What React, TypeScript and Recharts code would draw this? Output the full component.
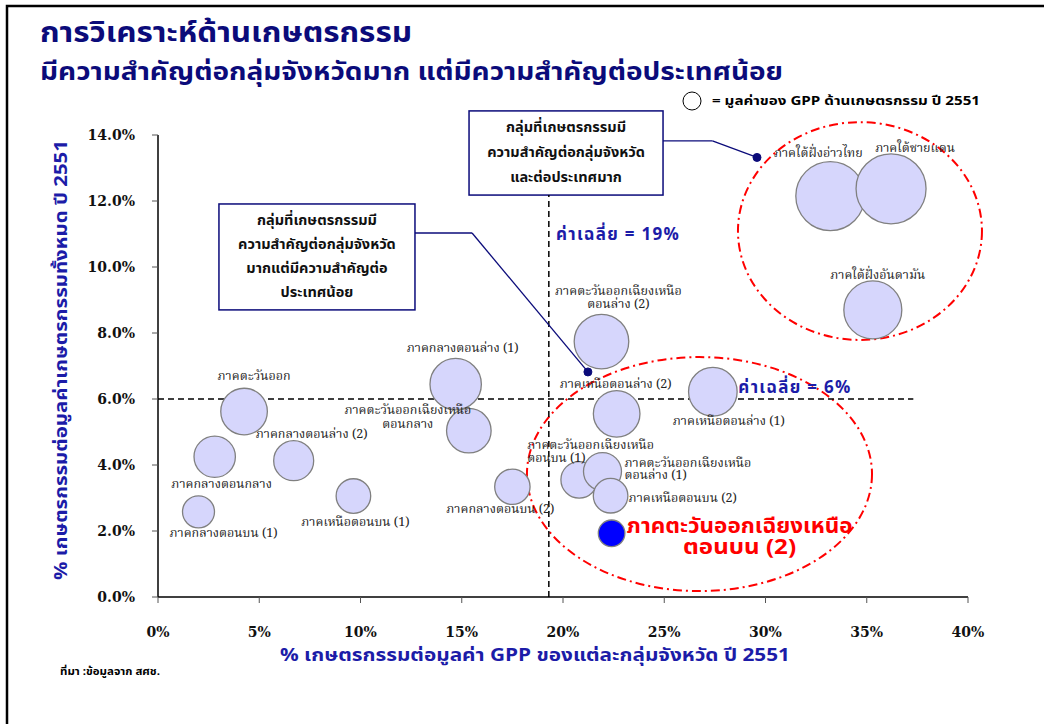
import React from 'react';
import {
  ScatterChart,
  Scatter,
  XAxis,
  YAxis,
  ZAxis,
  ReferenceLine,
  ReferenceArea,
  ReferenceDot,
} from 'recharts';

// ---------------- data ----------------
const regionNames = [
  'ภาคกลางตอนบน (1)',
  'ภาคกลางตอนกลาง',
  'ภาคตะวันออก',
  'ภาคกลางตอนล่าง (2)',
  'ภาคเหนือตอนบน (1)',
  'ภาคกลางตอนล่าง (1)',
  'ภาคตะวันออกเฉียงเหนือตอนกลาง',
  'ภาคกลางตอนบน (2)',
  'ภาคตะวันออกเฉียงเหนือตอนล่าง (2)',
  'ภาคเหนือตอนล่าง (2)',
  'ภาคเหนือตอนล่าง (1)',
  'ภาคตะวันออกเฉียงเหนือตอนบน (1)',
  'ภาคตะวันออกเฉียงเหนือตอนล่าง (1)',
  'ภาคเหนือตอนบน (2)',
  'ภาคตะวันออกเฉียงเหนือตอนบน (2)',
  'ภาคใต้ฝั่งอ่าวไทย',
  'ภาคใต้ชายแดน',
  'ภาคใต้ฝั่งอันดามัน',
];
// % agriculture in each group's GPP (x)
const agriShareOfGroupGpp = [2.0, 2.8, 4.25, 6.7, 9.65, 14.7, 15.35, 17.5, 21.9, 22.65, 27.4, 20.8, 21.95, 22.35, 22.4, 33.2, 36.2, 35.3];
// % of the nation's total agriculture (y)
const agriShareOfNational = [2.58, 4.25, 5.62, 4.13, 3.06, 6.45, 5.04, 3.34, 7.74, 5.55, 6.22, 3.55, 3.8, 3.07, 1.93, 12.15, 12.37, 8.7];
// relative GPP value of agriculture (bubble size)
const agriGppValue = [256, 428, 543, 400, 299, 660, 497, 313, 745, 543, 590, 335, 361, 299, 177, 1190, 1225, 841];

const xTicks = [0, 5, 10, 15, 20, 25, 30, 35, 40];
const yTicks = [0, 2, 4, 6, 8, 10, 12, 14];
const avgX = 19.3;
const avgY = 6;
const highlightRegion = 'ภาคตะวันออกเฉียงเหนือตอนบน (2)';

const titleLine1 = 'การวิเคราะห์ด้านเกษตรกรรม';
const titleLine2 = 'มีความสำคัญต่อกลุ่มจังหวัดมาก แต่มีความสำคัญต่อประเทศน้อย';
const legendText = '= มูลค่าของ GPP ด้านเกษตรกรรม ปี 2551';
const xTitle = '% เกษตรกรรมต่อมูลค่า GPP ของแต่ละกลุ่มจังหวัด ปี 2551';
const yTitle = '% เกษตรกรรมต่อมูลค่าเกษตรกรรมทั้งหมด ปี 2551';
const sourceText = 'ที่มา :ข้อมูลจาก สศช.';
const avgXLabel = 'ค่าเฉลี่ย = 19%';
const avgYLabel = 'ค่าเฉลี่ย = 6%';
const callout1Lines = ['กลุ่มที่เกษตรกรรมมี', 'ความสำคัญต่อกลุ่มจังหวัด', 'และต่อประเทศมาก'];
const callout2Lines = ['กลุ่มที่เกษตรกรรมมี', 'ความสำคัญต่อกลุ่มจังหวัด', 'มากแต่มีความสำคัญต่อ', 'ประเทศน้อย'];

const data = regionNames.map((name, i) => ({
  name,
  x: agriShareOfGroupGpp[i],
  y: agriShareOfNational[i],
  z: agriGppValue[i],
}));

// ---------------- layout / style ----------------
type LabelCfg = { lines: string[]; dx: number; dy: number; gap?: number; anchor?: 'start' | 'middle' | 'end' };
const labelLayout: Record<string, LabelCfg> = {
  'ภาคกลางตอนบน (1)': { lines: ['ภาคกลางตอนบน (1)'], dx: 25, dy: 22 },
  'ภาคกลางตอนกลาง': { lines: ['ภาคกลางตอนกลาง'], dx: 7, dy: 28 },
  'ภาคตะวันออก': { lines: ['ภาคตะวันออก'], dx: 10, dy: -35 },
  'ภาคกลางตอนล่าง (2)': { lines: ['ภาคกลางตอนล่าง (2)'], dx: 18, dy: -26 },
  'ภาคเหนือตอนบน (1)': { lines: ['ภาคเหนือตอนบน (1)'], dx: 2, dy: 27 },
  'ภาคกลางตอนล่าง (1)': { lines: ['ภาคกลางตอนล่าง (1)'], dx: 7, dy: -35 },
  'ภาคตะวันออกเฉียงเหนือตอนกลาง': { lines: ['ภาคตะวันออกเฉียงเหนือ', 'ตอนกลาง'], dx: -61, dy: -20, gap: 14 },
  'ภาคกลางตอนบน (2)': { lines: ['ภาคกลางตอนบน (2)'], dx: -12, dy: 23 },
  'ภาคตะวันออกเฉียงเหนือตอนล่าง (2)': { lines: ['ภาคตะวันออกเฉียงเหนือ', 'ตอนล่าง (2)'], dx: 17, dy: -50, gap: 13 },
  'ภาคเหนือตอนล่าง (2)': { lines: ['ภาคเหนือตอนล่าง (2)'], dx: -1, dy: -29 },
  'ภาคเหนือตอนล่าง (1)': { lines: ['ภาคเหนือตอนล่าง (1)'], dx: 16, dy: 30 },
  'ภาคตะวันออกเฉียงเหนือตอนบน (1)': { lines: ['ภาคตะวันออกเฉียงเหนือ', 'ตอนบน (1)'], dx: -52, dy: -34, gap: 13, anchor: 'start' },
  'ภาคตะวันออกเฉียงเหนือตอนล่าง (1)': { lines: ['ภาคตะวันออกเฉียงเหนือ', 'ตอนล่าง (1)'], dx: 22, dy: -8, gap: 12, anchor: 'start' },
  'ภาคเหนือตอนบน (2)': { lines: ['ภาคเหนือตอนบน (2)'], dx: 18, dy: 3, anchor: 'start' },
  'ภาคตะวันออกเฉียงเหนือตอนบน (2)': { lines: ['ภาคตะวันออกเฉียงเหนือ', 'ตอนบน (2)'], dx: 128, dy: -7, gap: 21 },
  'ภาคใต้ฝั่งอ่าวไทย': { lines: ['ภาคใต้ฝั่งอ่าวไทย'], dx: -12, dy: -42 },
  'ภาคใต้ชายแดน': { lines: ['ภาคใต้ชายแดน'], dx: 24, dy: -40 },
  'ภาคใต้ฝั่งอันดามัน': { lines: ['ภาคใต้ฝั่งอันดามัน'], dx: 5, dy: -34 },
};
const highlightLineLengths = [226, 113];

const W = 1044;
const H = 724;
const NAVY = '#0b0b7a';
const BLUE = '#1c1ca8';
const THAI_SANS = "'Noto Sans Thai', 'Tahoma', 'DejaVu Sans', sans-serif";
const THAI_SERIF = "'Noto Serif Thai', 'Noto Sans Thai', 'DejaVu Serif', serif";
const NUM_SERIF = "'DejaVu Serif', 'Liberation Serif', serif";
const MAX_R = 35;

const Bubble = (p: any) => {
  const r = p.width ? p.width / 2 : Math.sqrt((p.size || 0) / Math.PI);
  const name = p.payload?.name ?? p.name;
  const hl = name === highlightRegion;
  return (
    <circle cx={p.cx} cy={p.cy} r={r} fill={hl ? '#0000ff' : '#d6d6fc'} stroke="#808080" strokeWidth={1.3} />
  );
};

const BubbleLabel = (p: any) => {
  const name = p.payload?.name ?? p.name;
  const cfg = labelLayout[name];
  if (!cfg) return null;
  const hl = name === highlightRegion;
  const gap = cfg.gap ?? 13;
  return (
    <g>
      {cfg.lines.map((t, i) => (
        <text
          key={i}
          x={p.cx + cfg.dx}
          y={p.cy + cfg.dy + i * gap}
          textAnchor={cfg.anchor ?? 'middle'}
          dominantBaseline="central"
          fontFamily={hl ? THAI_SANS : THAI_SERIF}
          fontSize={hl ? 21 : 12.5}
          fontWeight={hl ? 'bold' : 'normal'}
          fill={hl ? '#ff0000' : '#222222'}
          textLength={hl ? highlightLineLengths[i] : undefined}
          lengthAdjust="spacingAndGlyphs"
        >
          {t}
        </text>
      ))}
    </g>
  );
};

const Ellipse = (p: any) => (
  <ellipse
    cx={p.x + p.width / 2}
    cy={p.y + p.height / 2}
    rx={Math.abs(p.width) / 2}
    ry={Math.abs(p.height) / 2}
    fill="none"
    stroke="#ff0000"
    strokeWidth={2}
    strokeDasharray="9 4 2 4"
  />
);

const makeBox = (lines: string[], lineGap: number) => (p: any) => {
  const cx = p.x + p.width / 2;
  const top = p.y;
  const start = top + p.height / 2 - ((lines.length - 1) * lineGap) / 2;
  return (
    <g>
      <rect x={p.x} y={p.y} width={p.width} height={p.height} fill="#ffffff" stroke={NAVY} strokeWidth={1.5} />
      {lines.map((t, i) => (
        <text
          key={i}
          x={cx}
          y={start + i * lineGap}
          textAnchor="middle"
          dominantBaseline="central"
          fontFamily={THAI_SANS}
          fontSize={14.5}
          fontWeight="bold"
          fill="#111111"
        >
          {t}
        </text>
      ))}
    </g>
  );
};

const makeText = (text: string, len: number) => (p: any) => (
  <text
    x={p.cx}
    y={p.cy}
    dominantBaseline="central"
    fontFamily={THAI_SANS}
    fontSize={17}
    fontWeight="bold"
    fill={BLUE}
    textLength={len}
    lengthAdjust="spacing"
  >
    {text}
  </text>
);

const tickStyle = {
  fontFamily: NUM_SERIF,
  fontSize: 14,
  fontWeight: 'bold',
  fill: '#111111',
  style: { fontFamily: NUM_SERIF },
};

export default function App() {
  return (
    <div style={{ position: 'absolute', left: 0, top: 0, width: W, height: H, background: '#ffffff' }}>
      <ScatterChart width={W} height={H} margin={{ top: 135, right: 76, bottom: 87, left: 98 }}>
        <XAxis
          type="number"
          dataKey="x"
          domain={[0, 40]}
          ticks={xTicks}
          tickFormatter={(v: number) => `${v}%`}
          axisLine={{ stroke: '#000000', strokeWidth: 1.5 }}
          tickLine={{ stroke: '#555555' }}
          tickSize={6}
          tickMargin={24}
          height={40}
          tick={tickStyle}
        />
        <YAxis
          type="number"
          dataKey="y"
          domain={[0, 14]}
          ticks={yTicks}
          tickFormatter={(v: number) => `${v.toFixed(1)}%`}
          axisLine={{ stroke: '#000000', strokeWidth: 1.5 }}
          tickLine={{ stroke: '#555555' }}
          tickSize={6}
          tickMargin={17}
          width={60}
          tick={tickStyle}
        />
        <ZAxis type="number" dataKey="z" domain={[0, 1225]} range={[0, Math.PI * MAX_R * MAX_R]} />

        <Scatter data={data} shape={Bubble} isAnimationActive={false} />

        <ReferenceLine
          segment={[{ x: avgX, y: 0 }, { x: avgX, y: 12.18 }]}
          stroke="#000000"
          strokeWidth={1.5}
          strokeDasharray="6 4"
          ifOverflow="visible"
        />
        <ReferenceLine
          segment={[{ x: 0, y: avgY }, { x: 37.3, y: avgY }]}
          stroke="#000000"
          strokeWidth={1.5}
          strokeDasharray="6 4"
          ifOverflow="visible"
        />

        <Scatter data={data} shape={BubbleLabel} isAnimationActive={false} />

        <ReferenceDot x={19.65} y={10.97} r={0} ifOverflow="visible" shape={makeText(avgXLabel, 123)} />
        <ReferenceDot x={28.66} y={6.32} r={0} ifOverflow="visible" shape={makeText(avgYLabel, 112)} />

        <ReferenceArea x1={28.64} x2={40.69} y1={7.79} y2={14.39} ifOverflow="visible" shape={Ellipse} />
        <ReferenceArea x1={18.22} x2={35.26} y1={0.18} y2={7.27} ifOverflow="visible" shape={Ellipse} />

        <ReferenceLine segment={[{ x: 24.94, y: 13.82 }, { x: 27.38, y: 13.82 }]} stroke={NAVY} strokeWidth={1.3} ifOverflow="visible" />
        <ReferenceLine segment={[{ x: 27.38, y: 13.82 }, { x: 29.58, y: 13.32 }]} stroke={NAVY} strokeWidth={1.3} ifOverflow="visible" />
        <ReferenceDot x={29.58} y={13.32} r={4} fill={NAVY} stroke={NAVY} ifOverflow="visible" />
        <ReferenceLine segment={[{ x: 12.69, y: 11.03 }, { x: 15.51, y: 11.03 }]} stroke={NAVY} strokeWidth={1.3} ifOverflow="visible" />
        <ReferenceLine segment={[{ x: 15.51, y: 11.03 }, { x: 21.23, y: 6.82 }]} stroke={NAVY} strokeWidth={1.3} ifOverflow="visible" />
        <ReferenceDot x={21.23} y={6.82} r={4} fill={NAVY} stroke={NAVY} ifOverflow="visible" />

        <ReferenceArea x1={15.36} x2={24.94} y1={12.18} y2={14.73} ifOverflow="visible" shape={makeBox(callout1Lines, 25)} />
        <ReferenceArea x1={3.01} x2={12.69} y1={8.7} y2={11.91} ifOverflow="visible" shape={makeBox(callout2Lines, 24)} />
      </ScatterChart>

      <svg
        width={W}
        height={H}
        style={{ position: 'absolute', left: 0, top: 0, pointerEvents: 'none' }}
      >
        <path d="M 1044 6 L 7 6 L 7 724" fill="none" stroke="#000000" strokeWidth={2.5} />
        <text x={40} y={33} dominantBaseline="central" fontFamily={THAI_SANS} fontSize={28} fontWeight="bold" fill={NAVY} textLength={372} lengthAdjust="spacingAndGlyphs">
          {titleLine1}
        </text>
        <text x={40} y={73} dominantBaseline="central" fontFamily={THAI_SANS} fontSize={24} fontWeight="bold" fill={NAVY} textLength={743} lengthAdjust="spacingAndGlyphs">
          {titleLine2}
        </text>
        <circle cx={692} cy={101} r={9} fill="#ffffff" stroke="#000000" strokeWidth={1} />
        <text x={712} y={101} dominantBaseline="central" fontFamily={THAI_SANS} fontSize={13} fontWeight="bold" fill="#000000" textLength={268} lengthAdjust="spacingAndGlyphs">
          {legendText}
        </text>
        <text x={535} y={655} textAnchor="middle" dominantBaseline="central" fontFamily={THAI_SANS} fontSize={18} fontWeight="bold" fill={BLUE} textLength={510} lengthAdjust="spacingAndGlyphs">
          {xTitle}
        </text>
        <text x={0} y={0} transform="translate(62 360) rotate(-90)" textAnchor="middle" dominantBaseline="central" fontFamily={THAI_SANS} fontSize={17} fontWeight="bold" fill={BLUE} textLength={440} lengthAdjust="spacingAndGlyphs">
          {yTitle}
        </text>
        <text x={60} y={672} dominantBaseline="central" fontFamily={THAI_SANS} fontSize={10} fontWeight="bold" fill="#000000" textLength={100} lengthAdjust="spacingAndGlyphs">
          {sourceText}
        </text>
      </svg>
    </div>
  );
}
